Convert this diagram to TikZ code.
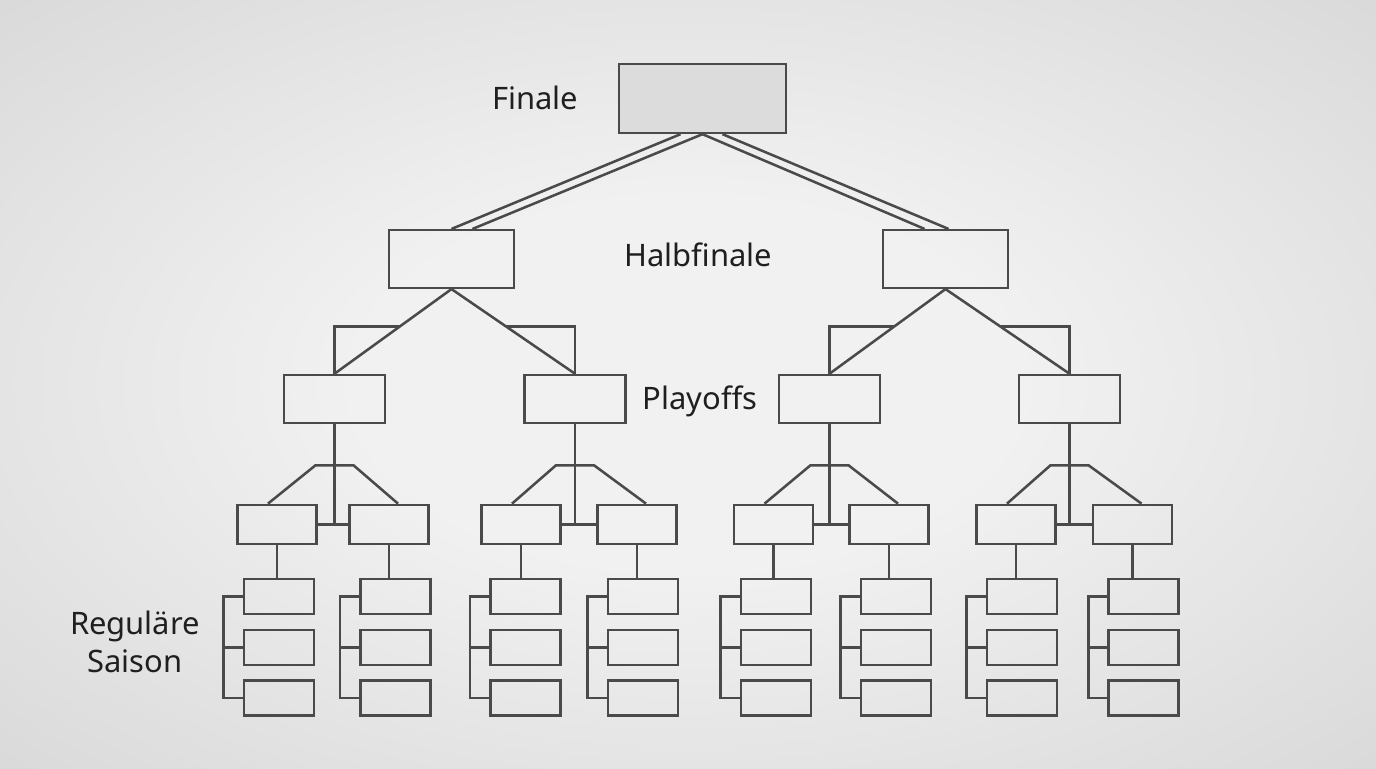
\documentclass[tikz,border=0pt]{standalone}
\usepackage{fontspec}
\setmainfont{Noto Sans}
\usetikzlibrary{calc}
\definecolor{ink}{HTML}{4A4A4A}
\definecolor{bgin}{HTML}{F1F1F1}
\definecolor{bgout}{HTML}{D9D9D9}
\definecolor{finfill}{HTML}{DCDCDC}
\pgfdeclareradialshading{vignette}{\pgfpoint{0bp}{0bp}}{%
  color(0bp)=(bgin); color(12bp)=(bgin); color(36bp)=(bgout); color(50bp)=(bgout)}

\begin{document}
\begin{tikzpicture}[
  x = 0.0125cm, y = -0.0125cm,
  every node/.style = {inner sep=0pt, font=\fontsize{11}{13.5}\selectfont, text=black!88},
  box/.style        = {draw=ink, line width=0.9pt, rectangle},
  finbox/.style     = {box, fill=finfill, minimum width=2.09cm, minimum height=0.86cm},
  sfbox/.style      = {box, minimum width=1.56cm, minimum height=0.72cm},
  pobox/.style      = {box, minimum width=1.26cm, minimum height=0.6cm},
  grbox/.style      = {box, minimum width=0.99cm, minimum height=0.49cm},
  rsbox/.style      = {box, minimum width=0.875cm, minimum height=0.44cm},
  link/.style       = {draw=ink, line width=0.9pt},
]

\shade[shading=vignette] (0,0) rectangle (1376,768);
\useasboundingbox (0,0) rectangle (1376,768);

% level 0
\node[finbox] (fin)  at (702.5, 98.5) {};
\node         (lfin) at (535, 98) {Finale};
% level 1
\node[sfbox]  (sf1)  at (451.5, 259) {};
\node[sfbox]  (sf2)  at (945.5, 259) {};
\node         (lsf)  at (698, 255) {Halbfinale};
% level 2
\foreach \i/\x in {1/334.5, 2/575, 3/829.5, 4/1069.5}
  \node[pobox] (po\i) at (\x, 399) {};
\node         (lpo)  at (700, 401) {Playoffs};
% level 3
\foreach \i/\x in {1/277, 2/389, 3/521, 4/637, 5/773.5, 6/889, 7/1016, 8/1132.5}
  \node[grbox] (gr\i) at (\x, 524.5) {};
% level 4
\foreach \i/\x in {1/279, 2/395.5, 3/525.5, 4/643, 5/776, 6/896, 7/1022, 8/1143.5}
  \foreach \j/\y in {1/596.5, 2/647.5, 3/698}
    \node[rsbox] (rs\i-\j) at (\x, \y) {};
\node[align=center] (lrs) at (135, 642) {Reguläre\\Saison};

% final to semifinals
\draw[link] ($(fin.south)+(-22,0)$) -- (sf1.north);
\draw[link] (fin.south) -- ($(sf1.north)+(21,0)$);
\draw[link] (fin.south) -- ($(sf2.north)+(-21,0)$);
\draw[link] ($(fin.south)+(20,0)$) -- ($(sf2.north)+(3,0)$);

% semifinals to playoffs
\foreach \s/\p in {sf1/po1, sf1/po2, sf2/po3, sf2/po4} {
  \draw[link] (\s.south) -- (\p.north);
  \draw[link] (\p.north) |- ($(\s.south)!0.44!(\p.north)$);
}

% playoffs to groups
\foreach \p/\l/\r in {po1/gr1/gr2, po2/gr3/gr4, po3/gr5/gr6, po4/gr7/gr8} {
  \draw[link] (\p.south) -- (\p.south |- \l.east);
  \draw[link] (\l.east) -- (\r.west);
  \draw[link] ($(\l.north)+(-9,0)$) -- ($(\p.south)+(-19,41)$)
              -- ($(\p.south)+(19,41)$) -- ($(\r.north)+(9,0)$);
}

% groups to regular season
\foreach \i in {1,...,8} {
  \draw[link] (gr\i.south) -- (gr\i.south |- rs\i-1.north);
  \draw[link] (rs\i-1.west) -- ++(-19,0) coordinate (br\i) |- (rs\i-3.west);
  \draw[link] (rs\i-2.west) -- (rs\i-2.west -| br\i);
}

\end{tikzpicture}
\end{document}
